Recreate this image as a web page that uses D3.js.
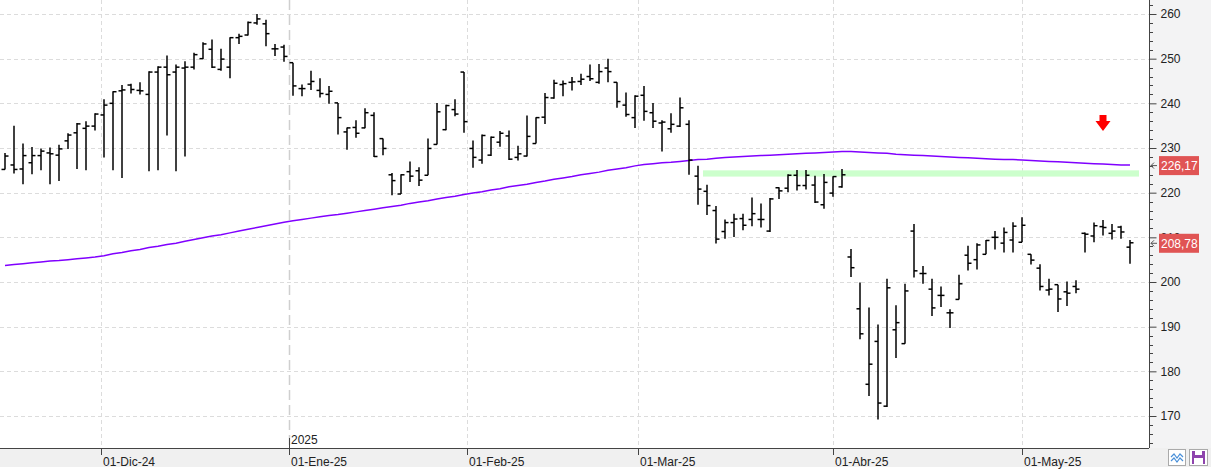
<!DOCTYPE html>
<html>
<head>
<meta charset="utf-8">
<style>
  body { margin: 0; background: #fff; }
  svg { display: block; font-family: "Liberation Sans", Arial, sans-serif; }
</style>
</head>
<body>
<svg width="1211" height="471"></svg>
<script src="https://d3js.org/d3.v7.min.js"></script>
<script>
// trading days shown (Nov 14 2024 .. May 19 2025)
const dates = [
  "2024-11-14","2024-11-15","2024-11-18","2024-11-19","2024-11-20","2024-11-21","2024-11-22","2024-11-25","2024-11-26","2024-11-27","2024-11-29",
  "2024-12-02","2024-12-03","2024-12-04","2024-12-05","2024-12-06","2024-12-09","2024-12-10","2024-12-11","2024-12-12","2024-12-13","2024-12-16",
  "2024-12-17","2024-12-18","2024-12-19","2024-12-20","2024-12-23","2024-12-24","2024-12-26","2024-12-27","2024-12-30","2024-12-31",
  "2025-01-02","2025-01-03","2025-01-06","2025-01-07","2025-01-08","2025-01-10","2025-01-13","2025-01-14","2025-01-15","2025-01-16",
  "2025-01-17","2025-01-21","2025-01-22","2025-01-23","2025-01-24","2025-01-27","2025-01-28","2025-01-29","2025-01-30","2025-01-31",
  "2025-02-03","2025-02-04","2025-02-05","2025-02-06","2025-02-07","2025-02-10","2025-02-11","2025-02-12","2025-02-13","2025-02-14",
  "2025-02-18","2025-02-19","2025-02-20","2025-02-21","2025-02-24","2025-02-25","2025-02-26","2025-02-27","2025-02-28",
  "2025-03-03","2025-03-04","2025-03-05","2025-03-06","2025-03-07","2025-03-10","2025-03-11","2025-03-12","2025-03-13","2025-03-14",
  "2025-03-17","2025-03-18","2025-03-19","2025-03-20","2025-03-21","2025-03-24","2025-03-25","2025-03-26","2025-03-27","2025-03-28","2025-03-31",
  "2025-04-01","2025-04-02","2025-04-03","2025-04-04","2025-04-07","2025-04-08","2025-04-09","2025-04-10","2025-04-11","2025-04-14",
  "2025-04-15","2025-04-16","2025-04-17","2025-04-21","2025-04-22","2025-04-23","2025-04-24","2025-04-25","2025-04-28","2025-04-29","2025-04-30",
  "2025-05-01","2025-05-02","2025-05-05","2025-05-06","2025-05-07","2025-05-08","2025-05-09","2025-05-12","2025-05-13","2025-05-14",
  "2025-05-15","2025-05-16","2025-05-19"
];

const open = [
  225.2,226.2,225.3,226.7,228.3,228.9,228.4,231.6,233.4,234.4,234.9,
  237.4,240.0,242.8,244.1,242.9,242.0,247.0,248.1,247.0,247.9,248.1,
  250.0,252.1,247.6,248.1,254.7,255.3,258.0,257.8,252.2,252.6,
  249.1,243.3,244.3,242.9,242.0,240.1,233.6,234.6,234.5,237.3,
  232.1,224.0,219.7,224.7,224.9,223.9,230.8,234.1,238.6,247.0,
  229.9,227.3,228.4,231.3,232.7,227.9,228.2,231.0,236.9,241.2,
  244.2,244.7,244.9,246.0,244.7,247.9,244.7,239.6,236.8,
  241.8,237.9,235.6,234.3,234.9,235.3,223.7,220.3,216.0,211.3,
  213.3,214.2,214.0,214.0,211.4,221.1,221.0,223.9,221.6,221.7,217.3,
  219.9,221.3,205.6,194.0,177.1,186.7,172.2,189.3,186.2,211.4,
  201.9,198.4,197.0,193.1,196.1,206.0,205.0,206.2,210.0,208.7,209.4,
  208.9,206.2,203.1,198.2,199.4,197.8,199.0,210.9,210.3,212.4,
  210.9,212.3,207.8
];
const high = [
  228.9,235.0,231.0,230.2,229.9,230.1,230.7,233.3,235.6,236.0,237.8,
  240.9,242.7,244.1,244.4,244.7,247.2,248.3,250.7,248.7,249.4,251.3,
  253.7,254.3,252.2,254.8,255.6,258.3,260.0,258.7,253.3,253.1,
  249.1,244.2,247.3,245.6,243.9,240.1,234.6,236.2,238.9,238.0,
  232.1,224.4,224.1,227.0,225.7,232.1,240.1,239.7,240.9,247.0,
  231.7,233.0,232.6,233.8,233.9,230.5,237.3,236.9,242.3,245.3,
  245.1,245.9,246.6,248.7,248.8,250.0,244.7,242.4,241.8,
  243.9,240.1,236.2,237.8,241.3,236.2,226.0,221.8,217.0,214.0,
  215.3,215.3,218.9,217.6,218.8,221.2,224.1,225.1,225.1,223.8,224.2,
  223.7,225.3,207.4,199.9,194.3,190.5,200.7,194.8,199.6,213.0,
  203.6,200.7,199.0,193.9,201.6,208.1,208.7,209.4,211.4,212.2,213.4,
  214.5,206.2,204.0,200.7,199.4,200.1,200.4,211.1,213.3,213.9,
  213.0,212.6,209.4
];
const low = [
  225.2,224.3,221.9,224.1,225.0,221.9,222.6,229.8,225.3,225.0,233.9,
  227.9,225.0,223.3,242.2,242.0,224.8,225.0,232.8,224.8,228.1,247.6,
  249.9,247.9,247.3,245.6,253.3,255.2,257.6,252.8,250.6,249.3,
  241.7,241.6,243.0,241.3,239.9,233.0,229.6,232.3,234.4,228.0,
  228.4,219.4,219.7,222.4,221.5,223.9,230.8,234.0,237.1,233.4,
  225.6,226.5,228.2,230.3,227.3,227.2,228.1,231.0,235.4,241.0,
  241.6,242.9,244.1,245.0,244.4,244.7,239.0,237.0,234.5,
  236.1,234.5,229.2,233.4,234.7,224.0,217.3,215.0,208.6,209.7,
  210.1,211.6,212.5,212.2,211.2,218.6,220.1,220.5,220.7,217.7,216.4,
  219.1,221.1,201.1,187.2,174.5,169.2,172.0,183.0,186.2,201.0,
  199.6,192.4,194.4,189.7,196.1,202.6,202.8,206.2,207.3,206.6,206.6,
  208.9,203.9,198.1,197.0,193.3,194.6,197.5,206.6,208.9,210.4,
  209.5,209.7,204.1
];
const close = [
  228.2,225.2,228.3,228.3,229.3,228.7,229.8,232.9,235.4,234.9,237.6,
  239.6,242.6,243.0,243.1,242.8,247.0,248.1,246.4,248.1,248.1,250.9,
  253.3,248.1,249.9,254.7,255.0,258.1,258.9,255.6,252.2,250.5,
  243.9,243.3,244.9,242.2,242.7,236.8,234.5,233.3,237.9,228.1,
  229.9,222.7,224.0,223.7,222.8,229.9,238.1,239.5,237.6,235.9,
  227.9,232.8,232.4,233.3,227.5,228.7,232.6,236.8,241.3,244.5,
  244.4,244.8,245.4,245.5,247.1,247.1,240.4,237.5,241.6,
  238.2,236.0,235.8,235.3,239.0,227.3,220.8,217.1,209.6,213.3,
  214.1,212.7,215.3,214.0,218.6,220.4,223.9,221.6,223.9,217.9,222.3,
  223.6,224.0,203.2,188.4,181.6,172.9,198.7,190.9,198.0,202.5,
  201.9,194.2,197.0,193.1,199.6,204.2,208.3,209.3,210.0,211.1,212.5,
  212.7,204.9,199.0,198.4,196.2,197.5,198.4,210.7,212.6,212.2,
  211.4,211.2,208.78
];
// 200-session moving average (purple line)
const sma = [
  203.7,203.9,204.1,204.3,204.5,204.7,204.8,205.0,205.2,205.4,205.6,
  205.9,206.3,206.6,207.0,207.3,207.7,208.0,208.4,208.7,209.1,
  209.5,209.9,210.3,210.6,211.0,211.4,211.8,212.2,212.6,213.0,213.4,
  213.7,214.0,214.3,214.6,214.9,215.1,215.4,215.7,216.0,216.3,216.6,216.9,
  217.2,217.6,217.9,218.2,218.6,218.9,219.2,219.6,219.9,
  220.2,220.6,220.9,221.3,221.6,221.9,222.3,222.6,223.0,223.3,
  223.6,224.0,224.3,224.6,225.0,225.3,225.6,226.0,226.3,
  226.5,226.7,226.8,227.0,227.2,227.4,227.5,227.7,227.9,
  228.0,228.1,228.2,228.3,228.4,228.5,228.6,228.7,228.8,228.9,229.0,229.1,
  229.2,229.2,229.1,229.0,228.9,228.8,228.6,228.5,
  228.4,228.3,228.2,228.1,228.0,227.9,227.8,227.7,227.6,227.5,227.4,227.4,227.3,
  227.2,227.1,227.0,226.9,226.8,226.7,226.6,226.5,226.4,226.3,226.2,226.17
];

const monthNames = ["Ene","Feb","Mar","Abr","May","Jun","Jul","Ago","Sep","Oct","Nov","Dic"];
const yTicks = [170, 180, 190, 200, 210, 220, 230, 240, 250, 260];
const zone = { from: 78, to: 126, low: 223.6, high: 225.0 };   // green band
const signal = { at: 122, price: 233.8 };                        // red arrow

const W = 1211, H = 471;
const plotR = 1149, plotB = 448;

const svg = d3.select("svg");
const x = d3.scaleLinear().domain([0, dates.length - 1]).range([5, 1130]);
const y = d3.scaleLinear().domain([170, 260]).range([416, 14]);
const parse = d3.timeParse("%Y-%m-%d");
const dts = dates.map(parse);

// backgrounds
svg.append("rect").attr("width", W).attr("height", H).attr("fill", "#fff");
svg.append("rect").attr("x", plotR).attr("y", 0).attr("width", W - plotR).attr("height", plotB).attr("fill", "#f3f3f4");
svg.append("rect").attr("x", 0).attr("y", plotB).attr("width", W).attr("height", 19).attr("fill", "#f0f0f0");

// month ticks at calendar position between trading days
const monthStarts = [];
for (let m = d3.timeMonth.ceil(dts[0]); m <= dts[dts.length - 1]; m = d3.timeMonth.offset(m, 1)) {
  let k = dts.findIndex(d => d >= m);
  let pos = k;
  if (+dts[k] !== +m) {
    const prev = dts[k - 1];
    pos = k - 1 + (m - prev) / (dts[k] - prev);
  }
  monthStarts.push({ date: m, pos: pos });
}

// grid
const grid = svg.append("g");
grid.selectAll("line.h").data(yTicks).join("line")
  .attr("x1", 0).attr("x2", plotR)
  .attr("y1", d => Math.round(y(d)) + 0.5).attr("y2", d => Math.round(y(d)) + 0.5)
  .attr("stroke", "#dcdcdc").attr("stroke-dasharray", "4,3");
grid.selectAll("line.v").data(monthStarts).join("line")
  .attr("x1", d => Math.round(x(d.pos)) + 0.5).attr("x2", d => Math.round(x(d.pos)) + 0.5)
  .attr("y1", 0).attr("y2", plotB)
  .attr("stroke", d => d.date.getMonth() === 0 ? "#cfcfcf" : "#dcdcdc")
  .attr("stroke-width", d => d.date.getMonth() === 0 ? 1.5 : 1)
  .attr("stroke-dasharray", d => d.date.getMonth() === 0 ? "10,5" : "4,3");

// green zone
svg.append("rect")
  .attr("x", x(zone.from) - 4).attr("width", x(zone.to) - x(zone.from) + 4)
  .attr("y", y(zone.high)).attr("height", y(zone.low) - y(zone.high))
  .attr("fill", "#ccffcc");

// moving average
svg.append("path").datum(sma)
  .attr("fill", "none").attr("stroke", "#8000ff").attr("stroke-width", 1.5)
  .attr("d", d3.line().x((d, i) => x(i)).y(d => y(d)));

// OHLC bars
const bars = svg.append("g").attr("stroke", "#000").attr("stroke-width", 1.5);
const idx = d3.range(dates.length);
bars.selectAll("line.hl").data(idx).join("line")
  .attr("x1", i => x(i)).attr("x2", i => x(i))
  .attr("y1", i => y(high[i])).attr("y2", i => y(low[i]));
bars.selectAll("line.o").data(idx).join("line")
  .attr("x1", i => x(i) - 3.5).attr("x2", i => x(i))
  .attr("y1", i => y(open[i])).attr("y2", i => y(open[i]));
bars.selectAll("line.c").data(idx).join("line")
  .attr("x1", i => x(i)).attr("x2", i => x(i) + 3.5)
  .attr("y1", i => y(close[i])).attr("y2", i => y(close[i]));

// red signal arrow
const ax = x(signal.at), ay = y(signal.price);
svg.append("path")
  .attr("d", `M${ax - 3.5},${ay - 16} h7 v6 h4 l-7.5,10 l-7.5,-10 h4 z`)
  .attr("fill", "#ff0000");

// right axis
const yAxis = d3.axisRight(y).tickValues(yTicks).tickSize(7).tickPadding(4);
const ga = svg.append("g").attr("transform", `translate(${plotR + 0.5},0)`).call(yAxis);
ga.select(".domain").remove();
ga.selectAll("text").attr("font-size", 12).attr("fill", "#222").attr("font-family", "Liberation Sans, Arial");
ga.selectAll("line").attr("stroke", "#444");
svg.append("line").attr("x1", plotR + 0.5).attr("x2", plotR + 0.5).attr("y1", 0).attr("y2", plotB).attr("stroke", "#444");
const minor = d3.range(164, 264, 2).filter(v => v % 10 !== 0 && y(v) > 0 && y(v) < plotB);
svg.selectAll("line.minor").data(minor).join("line")
  .attr("x1", plotR).attr("x2", plotR + 4)
  .attr("y1", d => Math.round(y(d)) + 0.5).attr("y2", d => Math.round(y(d)) + 0.5)
  .attr("stroke", "#444");

// last value labels
const fmt = v => d3.format(".2f")(v).replace(".", ",");
const tags = [sma[sma.length - 1], close[close.length - 1]];
const tg = svg.selectAll("g.tag").data(tags).join("g").attr("transform", d => `translate(0,${y(d)})`);
tg.append("path").attr("d", "M1157,0.5 H1151 M1154,-2.5 L1151,0.5 L1154,3.5").attr("stroke", "#555").attr("fill", "none");
tg.append("rect").attr("x", 1159).attr("y", -9).attr("width", 40).attr("height", 19).attr("fill", "#e05454");
tg.append("text").attr("x", 1161).attr("y", 5).attr("font-size", 12).attr("fill", "#fff").text(d => fmt(d));

// bottom axis
svg.append("line").attr("x1", 0).attr("x2", plotR).attr("y1", plotB + 0.5).attr("y2", plotB + 0.5).attr("stroke", "#444");
const bx = svg.append("g");
bx.selectAll("line").data(monthStarts).join("line")
  .attr("x1", d => Math.round(x(d.pos)) + 0.5).attr("x2", d => Math.round(x(d.pos)) + 0.5)
  .attr("y1", plotB).attr("y2", plotB + 7).attr("stroke", "#444");
bx.selectAll("text").data(monthStarts).join("text")
  .attr("x", d => Math.round(x(d.pos)) + 2).attr("y", 466)
  .attr("font-size", 12).attr("fill", "#222")
  .text(d => "01-" + monthNames[d.date.getMonth()] + "-" + d3.timeFormat("%y")(d.date));
// year marker
const years = monthStarts.filter(d => d.date.getMonth() === 0);
svg.selectAll("line.yr").data(years).join("line")
  .attr("x1", d => Math.round(x(d.pos)) + 0.5).attr("x2", d => Math.round(x(d.pos)) + 0.5)
  .attr("y1", 438).attr("y2", plotB).attr("stroke", "#444");
svg.selectAll("text.yr").data(years).join("text")
  .attr("x", d => Math.round(x(d.pos)) + 2).attr("y", 444)
  .attr("font-size", 12).attr("fill", "#222")
  .text(d => d.date.getFullYear());

// small buttons bottom right
const b1 = svg.append("g").attr("transform", "translate(1168,449)");
b1.append("rect").attr("x", 0.5).attr("y", 0.5).attr("width", 17).attr("height", 16).attr("fill", "#fff").attr("stroke", "#aaa");
b1.append("path").attr("d", "M3,8 L6,5 L9,9 L12,5 L15,8 M3,12 L6,9 L9,13 L12,9 L15,12").attr("fill", "none").attr("stroke", "#4a90d9").attr("stroke-width", 1.2);
const b2 = svg.append("g").attr("transform", "translate(1189,449)");
b2.append("rect").attr("x", 0.5).attr("y", 0.5).attr("width", 18).attr("height", 16).attr("fill", "#fff").attr("stroke", "#aaa");
b2.append("rect").attr("x", 3).attr("y", 2).attr("width", 13).attr("height", 13).attr("fill", "#8e44ad");
b2.append("rect").attr("x", 6).attr("y", 2).attr("width", 7).attr("height", 4).attr("fill", "#fff");
b2.append("rect").attr("x", 5).attr("y", 9).attr("width", 9).attr("height", 6).attr("fill", "#fff");
</script>
</body>
</html>
